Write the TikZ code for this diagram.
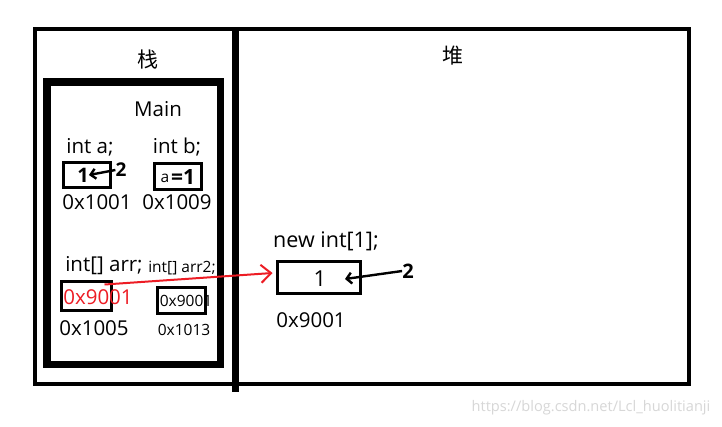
\documentclass[tikz,border=0pt]{standalone}
\usepackage{fontspec}
\setmainfont{Open Sans}
\newfontfamily\cjk{Noto Sans CJK SC}
\usetikzlibrary{positioning,arrows.meta}
\definecolor{ptrred}{RGB}{237,28,36}
\definecolor{wmgray}{RGB}{215,215,215}

\begin{document}
\begin{tikzpicture}[x=1bp, y=-1bp,
  lbl/.style={font=\fontsize{20.5bp}{24bp}\selectfont, inner sep=0pt},
  sml/.style={font=\fontsize{15.5bp}{18bp}\selectfont, inner sep=0pt},
  zh/.style={font=\cjk\fontsize{21bp}{24bp}\selectfont, inner sep=0pt},
  cell/.style={draw, line width=3bp, minimum width=#1, inner sep=0pt},
  hnd/.style={font=\bfseries\fontsize{#1}{#1}\selectfont, inner sep=0pt},
  ar/.style={line width=2.4bp, #1},
]
\useasboundingbox[fill=white] (0,0) rectangle (722,426);

% stack | heap frame
\draw[line width=4bp] (35,29) rectangle (689,384);
\draw[line width=7bp] (235.5,27) -- (235.5,392);
\draw[line width=7.5bp] (47,82) rectangle (220.5,364.5);

\node[zh] (stk)  at (148,60) {栈};
\node[zh] (heap) at (453,56) {堆};
\node[lbl] (main) at (158,109) {Main};

% int a / int b
\node[lbl] (da) at (90,147)  {int a;};
\node[lbl] (db) at (177,147) {int b;};
\node[cell=47bp, minimum height=25bp] (ca) at (86.5,174.5) {};
\node[cell=47bp, minimum height=26bp] (cb) at (177.5,176) {};
\node[hnd=20bp] (va)  at (83,175) {1};
\node[hnd=19bp] (two) at (121,170) {2};
\draw[ar, -{Straight Barb[length=5bp,width=10bp]}] (two.west) -- (va.east);
\node[sml] (bva) at (165,178) {a};
\node[hnd=21bp, anchor=west] (bvb) at (171,177) {=1};
\node[lbl] (adra) at (97,202)  {0x1001};
\node[lbl] (adrb) at (177,202) {0x1009};

% int[] arr / arr2
\node[lbl] (darr)  at (104,266) {int[] arr;};
\node[sml] (darr2) at (182,268) {int[] arr2;};
\node[cell=50bp, minimum height=29bp] (carr)  at (86,295.5) {};
\node[cell=48bp, minimum height=26bp] (carr2) at (181,300) {};
\node[lbl, text=ptrred] (varr) at (98,297) {0x9001};
\node[sml] (varr2) at (186,301) {0x9001};
\node[lbl] (adrarr)  at (94,328)  {0x1005};
\node[sml] (adrarr2) at (184,330) {0x1013};

% heap object
\node[lbl, font=\fontsize{21.5bp}{24bp}\selectfont] (newarr) at (326,241) {new int[1];};
\node[cell=83bp, minimum height=32bp] (hc) at (318.5,277) {};
\node[font=\fontsize{22bp}{22bp}\selectfont, inner sep=0pt] (hv) at (320,279) {1};
\node[hnd=20bp] (htwo) at (408,271) {2};
\draw[ar, -{Straight Barb[length=5bp,width=11bp]}] (htwo.west) -- (345,279);
\node[lbl] (hadr) at (311,320) {0x9001};

\draw[ar=ptrred, line width=2bp, -{Straight Barb[length=10bp,width=18bp]}]
  ([shift={(-8,5)}]carr.north east) -- ([shift={(-3,-4)}]hc.west);

\node[font=\fontsize{14.6bp}{16bp}\selectfont, text=wmgray, inner sep=0pt] (wm) at (591,408)
  {https://blog.csdn.net/Lcl\_huolitianji};
\end{tikzpicture}
\end{document}
